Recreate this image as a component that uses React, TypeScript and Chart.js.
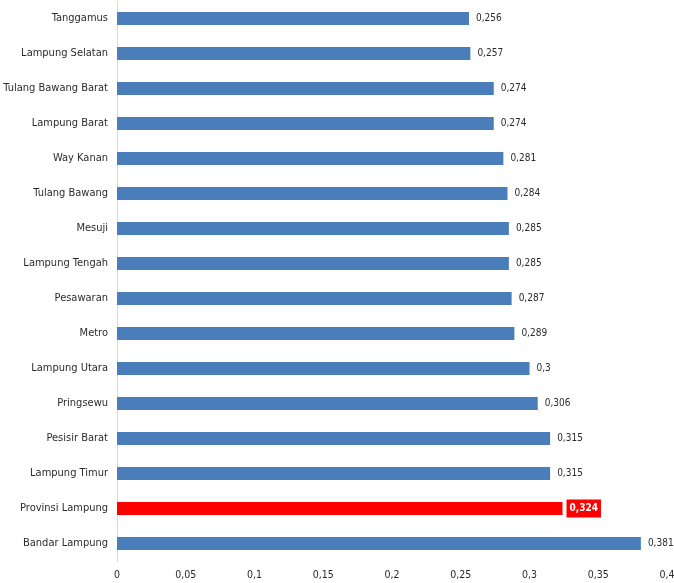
import React, { useEffect, useRef } from "react";
import { Chart, registerables } from "chart.js";
Chart.register(...registerables);

const categories = [
  "Tanggamus", "Lampung Selatan", "Tulang Bawang Barat", "Lampung Barat", "Way Kanan",
  "Tulang Bawang", "Mesuji", "Lampung Tengah", "Pesawaran", "Metro", "Lampung Utara",
  "Pringsewu", "Pesisir Barat", "Lampung Timur", "Provinsi Lampung", "Bandar Lampung",
];
const values = [0.256, 0.257, 0.274, 0.274, 0.281, 0.284, 0.285, 0.285, 0.287, 0.289, 0.3, 0.306, 0.315, 0.315, 0.324, 0.381];
const highlight = "Provinsi Lampung";
const xTicks = [0, 0.05, 0.1, 0.15, 0.2, 0.25, 0.3, 0.35, 0.4];

const FONT = "'Liberation Sans Narrow', 'DejaVu Sans Condensed', 'Open Sans', sans-serif";
const fmt = (v: number) => String(v).replace(".", ",");

export default function App() {
  const ref = useRef<HTMLCanvasElement>(null);
  useEffect(() => {
    const labelPlugin = {
      id: "vals",
      afterDatasetsDraw(chart: any) {
        const ctx = chart.ctx;
        const meta = chart.getDatasetMeta(0);
        ctx.save();
        ctx.textBaseline = "middle";
        ctx.textAlign = "left";
        meta.data.forEach((bar: any, i: number) => {
          const txt = fmt(values[i]);
          if (categories[i] === highlight) {
            ctx.font = `bold 10px ${FONT}`;
            const w = ctx.measureText(txt).width;
            ctx.fillStyle = "#ff0000";
            ctx.fillRect(bar.x + 4, bar.y - 9, w + 6, 18);
            ctx.fillStyle = "#ffffff";
            ctx.fillText(txt, bar.x + 7, bar.y);
          } else {
            ctx.font = `10px ${FONT}`;
            ctx.fillStyle = "#2b2b2b";
            ctx.fillText(txt, bar.x + 7, bar.y);
          }
        });
        ctx.restore();
      },
    };
    const chart = new Chart(ref.current!, {
      type: "bar",
      data: {
        labels: categories,
        datasets: [
          {
            data: values,
            backgroundColor: categories.map((c) => (c === highlight ? "#ff0000" : "#4a7ebb")),
            barPercentage: 0.74,
            categoryPercentage: 0.5,
          },
        ],
      },
      options: {
        indexAxis: "y",
        animation: false,
        responsive: false,
        maintainAspectRatio: false,
        layout: { padding: { top: 1, right: 7, left: 0, bottom: 0 } },
        plugins: { legend: { display: false }, tooltip: { enabled: false } },
        scales: {
          x: {
            min: 0,
            max: 0.4,
            afterBuildTicks: (s: any) => {
              s.ticks = xTicks.map((v) => ({ value: v }));
            },
            afterFit: (s: any) => {
              s.height = 22;
              s.paddingLeft = 0;
              s.paddingRight = 0;
            },
            grid: { display: false, drawTicks: false },
            border: { display: false },
            ticks: {
              padding: 8,
              color: "#2b2b2b",
              font: { family: FONT, size: 10.5 },
              maxRotation: 0,
              callback: (v: any) => fmt(Number(v)),
            },
          },
          y: {
            afterFit: (s: any) => {
              s.width = 117;
              s.paddingTop = 0;
              s.paddingBottom = 0;
            },
            grid: { display: false, drawTicks: false },
            border: { display: true, color: "#d9d9d9", width: 1 },
            ticks: {
              padding: 9,
              color: "#2b2b2b",
              font: { family: FONT, size: 11 },
              autoSkip: false,
            },
          },
        },
      },
      plugins: [labelPlugin],
    } as any);
    return () => chart.destroy();
  }, []);
  return (
    <div style={{ position: "absolute", left: 0, top: 0, width: 674, height: 583, background: "#fff" }}>
      <canvas ref={ref} width={674} height={583} style={{ display: "block", width: 674, height: 583 }} />
    </div>
  );
}
